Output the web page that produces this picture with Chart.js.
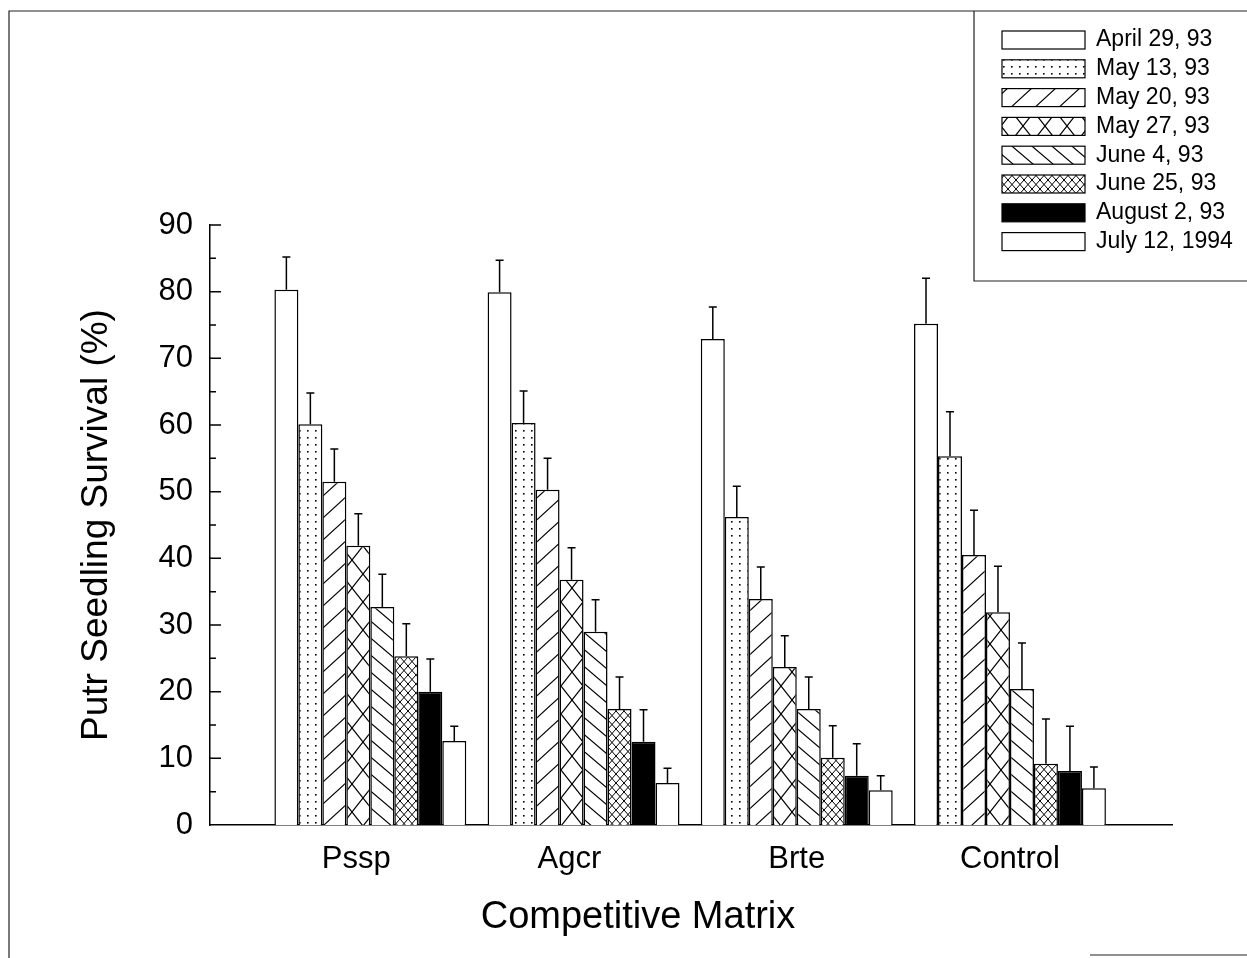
<!DOCTYPE html>
<html lang="en">
<head>
<meta charset="UTF-8">
<title>Putr Seedling Survival</title>
<script src="https://cdn.jsdelivr.net/npm/chart.js"></script>
<style>
    html, body { margin: 0; padding: 0; background: #fff; }
    canvas { display: block; }
</style>
</head>
<body>
<canvas id="survivalChart" width="1247" height="958"></canvas>
<script>
    const matrices = ['Pssp', 'Agcr', 'Brte', 'Control'];
    const dates = ['April 29, 93', 'May 13, 93', 'May 20, 93', 'May 27, 93',
                   'June 4, 93', 'June 25, 93', 'August 2, 93', 'July 12, 1994'];

    // mean survival (%) per matrix, one array per sampling date
    const april29 = [80.3, 79.9, 72.9, 75.2];
    const may13   = [60.1, 60.3, 46.2, 55.3];
    const may20   = [51.5, 50.3, 33.9, 40.5];
    const may27   = [41.9, 36.8, 23.7, 31.9];
    const june4   = [32.7, 29.0, 17.4, 20.4];
    const june25  = [25.3, 17.4, 10.1, 9.2];
    const aug2    = [20.0, 12.5, 7.4, 8.1];
    const july12  = [12.6, 6.3, 5.2, 5.5];

    // upper error bar lengths
    const april29Err = [4.9, 4.8, 4.8, 6.8];
    const may13Err   = [4.7, 4.8, 4.6, 6.7];
    const may20Err   = [4.9, 4.7, 4.8, 6.7];
    const may27Err   = [4.8, 4.8, 4.7, 6.9];
    const june4Err   = [4.9, 4.8, 4.8, 6.9];
    const june25Err  = [4.9, 4.8, 4.8, 6.7];
    const aug2Err    = [4.9, 4.8, 4.8, 6.7];
    const july12Err  = [2.2, 2.2, 2.2, 3.2];

    const yTicks = [0, 10, 20, 30, 40, 50, 60, 70, 80, 90];

    const FONT = '"Liberation Sans", Arial, Helvetica, sans-serif';
    const canvas = document.getElementById('survivalChart');
    const ctx = canvas.getContext('2d');

    // hatch fills
    function makePattern(w, h, draw) {
        const c = document.createElement('canvas');
        c.width = w; c.height = h;
        const g = c.getContext('2d');
        g.fillStyle = '#fff';
        g.fillRect(0, 0, w, h);
        g.strokeStyle = '#000';
        g.fillStyle = '#000';
        g.lineWidth = 1.2;
        draw(g, w, h);
        return ctx.createPattern(c, 'repeat');
    }
    function slash(g, w, h) {      // "/" lines
        g.beginPath();
        for (const k of [-1, 0, 1]) {
            g.moveTo(k * w - w, 2 * h);
            g.lineTo(k * w + 2 * w, -h);
        }
        g.stroke();
    }
    function backslash(g, w, h) {  // "\" lines
        g.beginPath();
        for (const k of [-1, 0, 1]) {
            g.moveTo(k * w - w, -h);
            g.lineTo(k * w + 2 * w, 2 * h);
        }
        g.stroke();
    }

    const fills = [
        '#ffffff',
        makePattern(8, 7, (g) => { g.fillRect(3, 3, 1.6, 1.6); }),
        makePattern(24, 22, slash),
        makePattern(22, 28, (g, w, h) => { slash(g, w, h); backslash(g, w, h); }),
        makePattern(20, 17, backslash),
        makePattern(8, 9, (g, w, h) => { g.lineWidth = 1; slash(g, w, h); backslash(g, w, h); }),
        '#000000',
        '#ffffff'
    ];

    const series = [april29, may13, may20, may27, june4, june25, aug2, july12];
    const errors = [april29Err, may13Err, may20Err, may27Err, june4Err, june25Err, aug2Err, july12Err];

    const datasets = series.map((vals, i) => ({
        label: dates[i],
        data: vals.map((v, j) => ({ x: j + 1, y: v })),
        errors: errors[i],
        backgroundColor: fills[i],
        borderColor: '#000',
        borderWidth: 1.5,
        barPercentage: 1.0,
        categoryPercentage: 0.9
    }));

    // error bars on top of each bar
    const errorBars = {
        id: 'errorBars',
        afterDatasetsDraw(chart) {
            const c = chart.ctx;
            const y = chart.scales.y;
            c.save();
            c.strokeStyle = '#000';
            c.lineWidth = 1.5;
            chart.data.datasets.forEach((ds, i) => {
                chart.getDatasetMeta(i).data.forEach((bar, j) => {
                    const top = y.getPixelForValue(ds.data[j].y + ds.errors[j]);
                    c.beginPath();
                    c.moveTo(bar.x, bar.y);
                    c.lineTo(bar.x, top);
                    c.moveTo(bar.x - 4, top);
                    c.lineTo(bar.x + 4, top);
                    c.stroke();
                });
            });
            c.restore();
        }
    };

    // inward major / minor ticks on the y axis
    const innerTicks = {
        id: 'innerTicks',
        afterDraw(chart) {
            const c = chart.ctx;
            const y = chart.scales.y;
            c.save();
            c.strokeStyle = '#000';
            c.lineWidth = 1.5;
            c.beginPath();
            for (let v = 5; v <= 90; v += 5) {
                const py = y.getPixelForValue(v);
                c.moveTo(y.right, py);
                c.lineTo(y.right + (v % 10 === 0 ? 11 : 6), py);
            }
            c.stroke();
            c.restore();
        }
    };

    // figure frame, x axis title and boxed legend
    const frameLegend = {
        id: 'frameLegend',
        afterDraw(chart) {
            const c = chart.ctx;
            c.save();
            c.strokeStyle = '#222';
            c.lineWidth = 1.2;
            c.beginPath();
            c.moveTo(9, 958); c.lineTo(9, 11); c.lineTo(1247, 11);
            c.moveTo(974, 11); c.lineTo(974, 281); c.lineTo(1247, 281);
            c.moveTo(1090, 955); c.lineTo(1247, 955);
            c.stroke();

            c.fillStyle = '#000';
            c.font = '38px ' + FONT;
            c.textAlign = 'center';
            c.textBaseline = 'middle';
            c.fillText('Competitive Matrix', 638, 918);

            c.font = '23px ' + FONT;
            c.textAlign = 'left';
            c.lineWidth = 1.2;
            c.strokeStyle = '#000';
            chart.data.datasets.forEach((ds, i) => {
                const top = 31 + i * 28.8;
                c.fillStyle = ds.backgroundColor;
                c.fillRect(1002, top, 83, 18);
                c.strokeRect(1002, top, 83, 18);
                c.fillStyle = '#000';
                c.fillText(ds.label, 1096, top + 9);
            });
            c.restore();
        }
    };

    new Chart(ctx, {
        type: 'bar',
        data: { datasets: datasets },
        plugins: [errorBars, innerTicks, frameLegend],
        options: {
            responsive: false,
            animation: false,
            layout: { padding: { left: 0, right: 75, top: 225, bottom: 0 } },
            plugins: {
                legend: { display: false },
                tooltip: { enabled: false }
            },
            scales: {
                x: {
                    type: 'linear',
                    min: 0.248,
                    max: 4.76,
                    offset: false,
                    // the first two names sit a little left of their bar groups
                    afterBuildTicks: (s) => { s.ticks = [0.934, 1.934, 3, 4].map(v => ({ value: v })); },
                    afterFit: (s) => { s.height = 133; },
                    grid: { display: false, drawTicks: false },
                    border: { display: true, color: '#000', width: 1.5 },
                    ticks: {
                        color: '#000',
                        padding: 16,
                        maxRotation: 0,
                        autoSkip: false,
                        font: { family: FONT, size: 31 },
                        callback: (v) => matrices[Math.round(v) - 1]
                    },
                    title: { display: false }
                },
                y: {
                    min: 0,
                    max: 90,
                    afterBuildTicks: (s) => { s.ticks = yTicks.map(v => ({ value: v })); },
                    afterFit: (s) => { s.width = 210; },
                    grid: { display: false, drawTicks: false },
                    border: { display: true, color: '#000', width: 1.5 },
                    ticks: {
                        color: '#000',
                        padding: 17,
                        font: { family: FONT, size: 31 }
                    },
                    title: {
                        display: true,
                        text: 'Putr Seedling Survival (%)',
                        color: '#000',
                        font: { family: FONT, size: 37 },
                        padding: { top: 75, bottom: 0 }
                    }
                }
            }
        }
    });
</script>
</body>
</html>
